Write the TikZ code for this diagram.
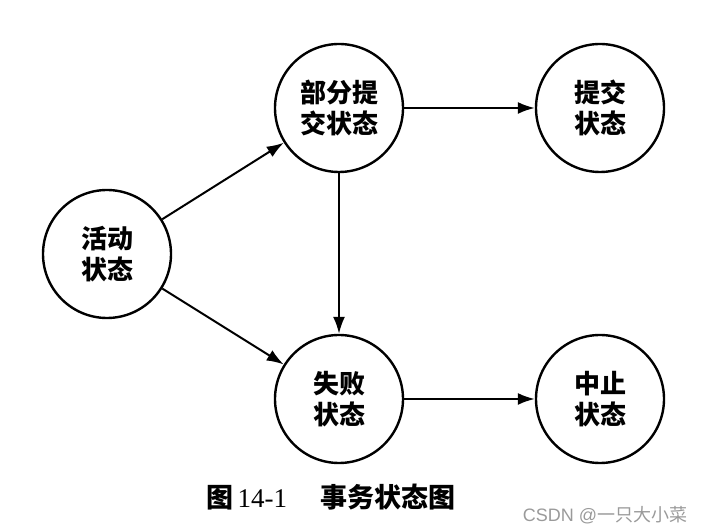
\documentclass[tikz,border=0pt]{standalone}
\usepackage{fontspec}
\setmainfont{Liberation Serif}
\newfontfamily\cjk{Noto Sans CJK SC}
\newfontfamily\wmfont{Liberation Sans}
\usepackage{xcolor}
\usetikzlibrary{arrows.meta,positioning}
\definecolor{txgray}{HTML}{9A9A9A}

\begin{document}
\begin{tikzpicture}[
    x=1pt,y=1pt,
    eta/.style = {circle,draw=black,line width=2.4pt,minimum size=128pt,inner sep=0pt,
                  align=center,font=\cjk\bfseries\fontsize{26}{31}\selectfont},
    tra/.style = {-{Latex[length=17pt,width=12pt]},line width=2pt},
    leg/.style = {font=\fontsize{27}{30}\selectfont},
    mrq/.style = {font=\wmfont\fontsize{18}{20}\selectfont,text=txgray},
  ]
  \useasboundingbox (0,0) rectangle (706,532);

  % Etats
  \node[eta] (actif)   at (107,278) {活动\\状态};
  \node[eta] (partiel) at (339,424) {部分提\\交状态};
  \node[eta] (valide)  at (600,424) {提交\\状态};
  \node[eta] (echec)   at (339,133) {失败\\状态};
  \node[eta] (abandon) at (600,133) {中止\\状态};

  % Transitions
  \draw[tra] (actif)   -- (partiel);
  \draw[tra] (actif)   -- (echec);
  \draw[tra] (partiel) -- (valide);
  \draw[tra] (partiel) -- (echec);
  \draw[tra] (echec)   -- (abandon);

  % Legende
  \node[leg,anchor=base] (titre) at (331,24) {{\cjk\bfseries 图}\,14-1\quad\ {\cjk\bfseries 事务状态图}};
  \node[mrq,anchor=base] (marque) at (605,10) {CSDN @{\cjk 一只大小菜}};

\end{tikzpicture}
\end{document}
